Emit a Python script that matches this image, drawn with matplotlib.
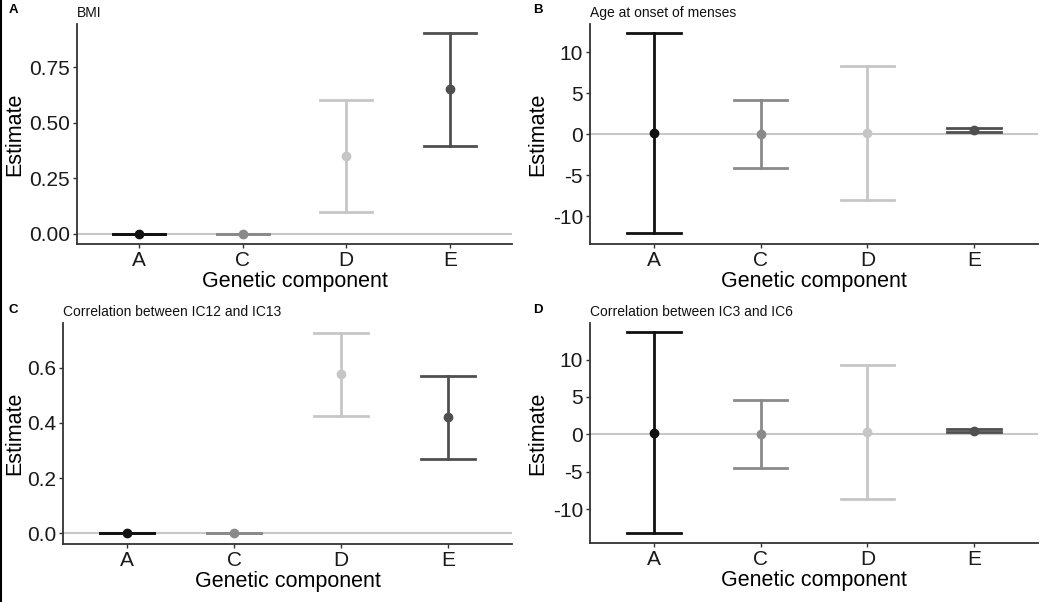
import numpy as np
import matplotlib
matplotlib.use("Agg")
import matplotlib.pyplot as plt
from matplotlib.lines import Line2D

plt.rcParams['font.family'] = ['Liberation Sans', 'DejaVu Sans']

# Genetic components on the x axis
components = ['A', 'C', 'D', 'E']

# Panel A: BMI
bmi_est = [0.0, 0.0, 0.35, 0.65]
bmi_low = [0.0, 0.0, 0.095, 0.395]
bmi_high = [0.0, 0.0, 0.604, 0.902]

# Panel B: Age at onset of menses
menses_est = [0.16, 0.05, 0.15, 0.5]
menses_low = [-12.07, -4.07, -8.05, 0.26]
menses_high = [12.4, 4.18, 8.33, 0.73]

# Panel C: Correlation between IC12 and IC13
ic12_est = [0.0, 0.0, 0.576, 0.42]
ic12_low = [0.0, 0.0, 0.425, 0.269]
ic12_high = [0.0, 0.0, 0.727, 0.571]

# Panel D: Correlation between IC3 and IC6
ic3_est = [0.2, 0.05, 0.3, 0.5]
ic3_low = [-13.25, -4.47, -8.7, 0.28]
ic3_high = [13.65, 4.6, 9.28, 0.7]

titles = ['BMI', 'Age at onset of menses',
          'Correlation between IC12 and IC13', 'Correlation between IC3 and IC6']
letters = ['A', 'B', 'C', 'D']
yticks = [[0.0, 0.25, 0.5, 0.75], [-10, -5, 0, 5, 10],
          [0.0, 0.2, 0.4, 0.6], [-10, -5, 0, 5, 10]]
yticklabels = [['0.00', '0.25', '0.50', '0.75'], ['-10', '-5', '0', '5', '10'],
               ['0.0', '0.2', '0.4', '0.6'], ['-10', '-5', '0', '5', '10']]
ylims = [(-0.047, 0.944), (-13.4, 13.45), (-0.039, 0.762), (-14.55, 14.9)]

colors = ['#111111', '#8a8a8a', '#c6c6c6', '#4f4f4f']

# axes rectangles [left, bottom, width, height] in figure fractions
rects = [[0.0733, 0.5947, 0.4143, 0.3653],
         [0.5619, 0.5947, 0.4267, 0.3653],
         [0.0600, 0.0963, 0.4276, 0.3672],
         [0.5619, 0.0980, 0.4267, 0.3655]]
ylabel_x = [-0.1425, -0.116, -0.107, -0.116]
letter_x = [0.008, 0.508, 0.008, 0.508]
letter_y = [0.983, 0.983, 0.485, 0.485]

panels = [(bmi_est, bmi_low, bmi_high), (menses_est, menses_low, menses_high),
          (ic12_est, ic12_low, ic12_high), (ic3_est, ic3_low, ic3_high)]

fig = plt.figure(figsize=(10.5, 6.02), dpi=100)

for i, (est, low, high) in enumerate(panels):
    ax = fig.add_axes(rects[i])
    x = np.arange(len(components)) + 1
    ax.axhline(0, color='#c8c8c8', lw=1.5, zorder=1)
    for j in range(len(components)):
        ax.plot([x[j], x[j]], [low[j], high[j]], color=colors[j], lw=2, zorder=2)
        ax.plot([x[j] - 0.25, x[j] + 0.25], [low[j], low[j]], color=colors[j], lw=2, zorder=2)
        ax.plot([x[j] - 0.25, x[j] + 0.25], [high[j], high[j]], color=colors[j], lw=2, zorder=2)
        ax.plot(x[j], est[j], 'o', color=colors[j], ms=6, zorder=3)
    ax.set_xlim(0.4, 4.6)
    ax.set_ylim(*ylims[i])
    ax.set_xticks(x)
    ax.set_xticklabels(components)
    ax.set_yticks(yticks[i])
    ax.set_yticklabels(yticklabels[i])
    ax.tick_params(labelsize=15, colors='#333333', labelcolor='#1a1a1a',
                   length=3, width=1, pad=2)
    ax.set_xlabel('Genetic component', fontsize=15.5, color='black', labelpad=1)
    ax.set_ylabel('Estimate', fontsize=15.5, color='black', va='center')
    ax.yaxis.set_label_coords(ylabel_x[i], 0.5)
    for s in ['top', 'right']:
        ax.spines[s].set_visible(False)
    for s in ['left', 'bottom']:
        ax.spines[s].set_color('#333333')
        ax.spines[s].set_linewidth(1.3)
    ax.set_title(titles[i], loc='left', fontsize=10, pad=5, color='#111111')
    fig.text(letter_x[i], letter_y[i], letters[i], fontsize=9.5, fontweight='bold',
             ha='left', va='center')

# image border on the left edge
fig.add_artist(Line2D([0.001, 0.001], [0, 1], color='black', lw=1.5,
                      transform=fig.transFigure))

fig.savefig('out.png', dpi=100)
